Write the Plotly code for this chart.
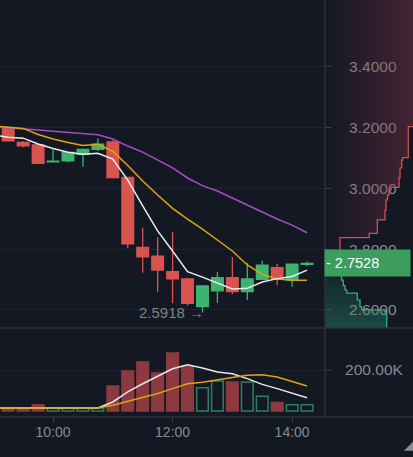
import plotly.graph_objects as go

DAY = "2024-01-01 "

# ---------------- data ----------------
candle_times = ["09:15", "09:30", "09:45", "10:00", "10:15", "10:30", "10:45",
                "11:00", "11:15", "11:30", "11:45", "12:00", "12:15", "12:30",
                "12:45", "13:00", "13:15", "13:30", "13:45", "14:00", "14:15"]
opens  = [3.199, 3.151, 3.143, 3.087, 3.090, 3.112, 3.128, 3.153, 3.036, 2.806, 2.777,
          2.726, 2.702, 2.611, 2.663, 2.706, 2.660, 2.701, 2.739, 2.698, 2.750]
highs  = [3.201, 3.156, 3.145, 3.128, 3.119, 3.131, 3.164, 3.158, 3.038, 2.870, 2.839,
          2.857, 2.706, 2.682, 2.726, 2.773, 2.755, 2.762, 2.751, 2.753, 2.759]
lows   = [3.154, 3.135, 3.079, 3.086, 3.086, 3.071, 3.123, 3.032, 2.803, 2.722, 2.660,
          2.622, 2.614, 2.5918, 2.624, 2.652, 2.633, 2.699, 2.681, 2.676, 2.744]
closes = [3.156, 3.140, 3.082, 3.089, 3.118, 3.128, 3.145, 3.035, 2.817, 2.775, 2.731,
          2.702, 2.622, 2.679, 2.706, 2.660, 2.702, 2.747, 2.701, 2.751, 2.7528]
volumes = [16000, 15000, 31000, 15000, 15000, 15000, 15000, 122000, 195000, 239000, 185000,
           283000, 218000, 114000, 146000, 141000, 141000, 72000, 42000, 31000, 31000]

# moving-average lines (one extra point at 09:00, left of the first visible candle)
ma_times = ["09:00"] + candle_times
ma5  = [3.175, 3.168, 3.165, 3.146, 3.131, 3.119, 3.112, 3.115, 3.096, 3.027, 2.942,
        2.860, 2.794, 2.726, 2.708, 2.688, 2.669, 2.671, 2.692, 2.703, 2.710, 2.731]
ma10 = [3.205, 3.202, 3.197, 3.177, 3.162, 3.151, 3.141, 3.145, 3.122, 3.075, 3.024,
        2.978, 2.934, 2.899, 2.866, 2.830, 2.794, 2.748, 2.717, 2.702, 2.698, 2.698]
ma30 = [3.203, 3.200, 3.196, 3.192, 3.188, 3.184, 3.180, 3.176, 3.162, 3.139, 3.119,
        3.093, 3.067, 3.034, 3.009, 2.991, 2.968, 2.945, 2.922, 2.899, 2.879, 2.854]
vol_ma5  = [15000, 15000, 15000, 16000, 15000, 15000, 15000, 15000, 44000, 93000, 133000,
            169000, 206000, 226000, 210000, 190000, 182000, 158000, 130000, 109000, 88000, 65000]
vol_ma10 = [15000, 15000, 15000, 15000, 15000, 15000, 15000, 15000, 28000, 47000, 65000,
            85000, 109000, 133000, 140000, 150000, 163000, 174000, 177000, 166000, 145000, 122000]

# order-book depth (cumulative amount vs price)
ask_depth  = [15, 44.3, 52.3, 60, 61, 62.5, 64, 66, 74, 75, 76.7, 77.7, 83.3, 92, 100]
ask_prices = [2.7528, 2.8376, 2.852, 2.896, 2.928, 2.962, 2.978, 2.994, 3.003, 3.034,
              3.067, 3.093, 3.101, 3.203, 3.65]
bid_depth  = [15, 16.5, 18.3, 20, 21.7, 32.3, 35, 36.7, 60, 61.7, 70]
bid_prices = [2.7528, 2.72, 2.698, 2.68, 2.666, 2.655, 2.633, 2.611, 2.600, 2.594, 2.50]

price_ticks = [2.6, 2.8, 3.0, 3.2, 3.4]
vol_ticks = [200000]
vol_tick_text = ["200.00K"]
time_ticks = ["10:00", "12:00", "14:00"]
last_price = 2.7528
low_price = 2.5918
low_time = "12:30"

# ---------------- style ----------------
BG = "#131823"
GRID = "#1e2331"
AXLINE = "#2c313d"
TXT = "#868a93"
UP = "#3eb370"
DOWN = "#d9534f"
VOL_DOWN = "#8c3a3f"
VOL_UP = "#2b8060"
FONT = "Liberation Sans, Arial, sans-serif"

W, H = 413, 457
XR = 325 / W
PY_BOT = 1 - 328 / H
VY_BOT = 1 - 417 / H

ct = [DAY + t for t in candle_times]
mt = [DAY + t for t in ma_times]

fig = go.Figure()

# volume bars
is_up = [c >= o for o, c in zip(opens, closes)]
fig.add_trace(go.Bar(
    x=ct, y=volumes, xaxis="x2", yaxis="y2", width=700000,
    marker=dict(color=["rgba(0,0,0,0)" if u else VOL_DOWN for u in is_up],
                line=dict(color=[VOL_UP if u else VOL_DOWN for u in is_up], width=1.5)),
    hoverinfo="skip"))
fig.add_trace(go.Scatter(x=mt, y=vol_ma5, xaxis="x2", yaxis="y2", mode="lines",
                         line=dict(color="#e8e8ea", width=1.5), hoverinfo="skip"))
fig.add_trace(go.Scatter(x=mt, y=vol_ma10, xaxis="x2", yaxis="y2", mode="lines",
                         line=dict(color="#dfa410", width=1.5), hoverinfo="skip"))

# candles
fig.add_trace(go.Candlestick(
    x=ct, open=opens, high=highs, low=lows, close=closes, xaxis="x", yaxis="y",
    increasing=dict(line=dict(color=UP, width=1.3), fillcolor=UP),
    decreasing=dict(line=dict(color=DOWN, width=1.3), fillcolor=DOWN),
    whiskerwidth=0, hoverinfo="skip"))
fig.add_trace(go.Scatter(x=mt, y=ma30, mode="lines", line=dict(color="#a94bc8", width=1.5), hoverinfo="skip"))
fig.add_trace(go.Scatter(x=mt, y=ma10, mode="lines", line=dict(color="#dfa410", width=1.5), hoverinfo="skip"))
fig.add_trace(go.Scatter(x=mt, y=ma5, mode="lines", line=dict(color="#ececee", width=1.5), hoverinfo="skip"))

# depth overlay on price axis area
fig.add_trace(go.Scatter(
    x=ask_depth, y=ask_prices, xaxis="x3", yaxis="y3", mode="lines", line_shape="vh",
    line=dict(color="#d0504f", width=1.3), fill="tozerox",
    fillgradient=dict(type="horizontal",
                      colorscale=[[0, "rgba(130,50,70,0)"], [1, "rgba(130,50,70,0.5)"]]),
    hoverinfo="skip"))
fig.add_trace(go.Scatter(
    x=bid_depth, y=bid_prices, xaxis="x3", yaxis="y3", mode="lines", line_shape="vh",
    line=dict(color="#36b172", width=1.3), fill="tozerox",
    fillgradient=dict(type="vertical",
                      colorscale=[[0, "rgba(45,150,120,0.45)"], [1, "rgba(45,150,120,0.05)"]]),
    hoverinfo="skip"))

x_range = [DAY + "09:06:45", DAY + "14:33:00"]
y_range = [2.5406, 3.6194]

fig.update_layout(
    width=W, height=H, margin=dict(l=0, r=0, t=0, b=0),
    paper_bgcolor=BG, plot_bgcolor=BG, showlegend=False,
    font=dict(family=FONT, color=TXT, size=14),
    boxgap=0.22, boxgroupgap=0,
    xaxis=dict(domain=[0, XR], anchor="y", matches="x2", range=x_range, showticklabels=False,
               showgrid=False, zeroline=False, showline=False, ticks="",
               rangeslider=dict(visible=False)),
    yaxis=dict(domain=[PY_BOT, 1], anchor="x", side="right", range=y_range,
               tickvals=price_ticks, ticktext=[f"{v:.4f}" for v in price_ticks],
               showgrid=True, gridcolor=GRID, gridwidth=1, zeroline=False, showline=False,
               ticks="outside", ticklen=5, tickcolor="#3a3f4b", ticklabelstandoff=15,
               tickfont=dict(size=15.5, color=TXT)),
    xaxis2=dict(domain=[0, XR], anchor="y2", type="date", range=x_range,
                tickvals=[DAY + t for t in time_ticks], ticktext=time_ticks,
                showgrid=False, zeroline=False, showline=False,
                ticks="outside", ticklen=5, tickcolor="#3a3f4b", ticklabelstandoff=-3,
                tickfont=dict(size=14, color=TXT)),
    yaxis2=dict(domain=[VY_BOT, PY_BOT], anchor="x2", side="right", range=[-29300, 404900],
                tickvals=vol_ticks, ticktext=vol_tick_text,
                showgrid=True, gridcolor=GRID, zeroline=False, showline=False,
                ticks="outside", ticklen=5, tickcolor="#3a3f4b", ticklabelstandoff=11,
                tickfont=dict(size=15.5, color=TXT)),
    xaxis3=dict(domain=[XR, 1], anchor="y3", range=[0, 88], visible=False),
    yaxis3=dict(domain=[PY_BOT, 1], anchor="x3", range=y_range, visible=False),
)

# frame lines
fig.add_shape(type="line", xref="paper", yref="paper", x0=0, x1=1, y0=PY_BOT, y1=PY_BOT,
              line=dict(color=AXLINE, width=1.5), layer="above")
fig.add_shape(type="line", xref="paper", yref="paper", x0=0, x1=1, y0=VY_BOT, y1=VY_BOT,
              line=dict(color=AXLINE, width=1.5), layer="above")
fig.add_shape(type="line", xref="paper", yref="paper", x0=XR, x1=XR, y0=VY_BOT, y1=1,
              line=dict(color=AXLINE, width=1.5), layer="above")
# resize grip
fig.add_shape(type="path", xref="paper", yref="paper",
              path=f"M 1,{1-441.7/H} L 1,{1-450.7/H} L {404/W},{1-450.7/H} Z",
              fillcolor="#8a8f9a", line=dict(width=0))

# last price tag
fig.add_annotation(xref="paper", yref="y", x=324 / W, y=last_price, xanchor="left",
                   yanchor="middle", text=f"- {last_price:.4f}", showarrow=False,
                   bgcolor="#3d9d5f", width=83, height=24, align="left", borderpad=1,
                   font=dict(size=14.5, color="#ffffff"))
# lowest price marker
fig.add_annotation(xref="x", yref="y", x=DAY + low_time, y=low_price, xanchor="right",
                   yanchor="middle", xshift=4, text=f"{low_price:.4f} →", showarrow=False,
                   font=dict(size=15, color="#7d828c"))

fig.write_html("out.html", config={"displayModeBar": False},
               post_script="document.body.style.margin='0';document.body.style.background='" + BG + "';")
